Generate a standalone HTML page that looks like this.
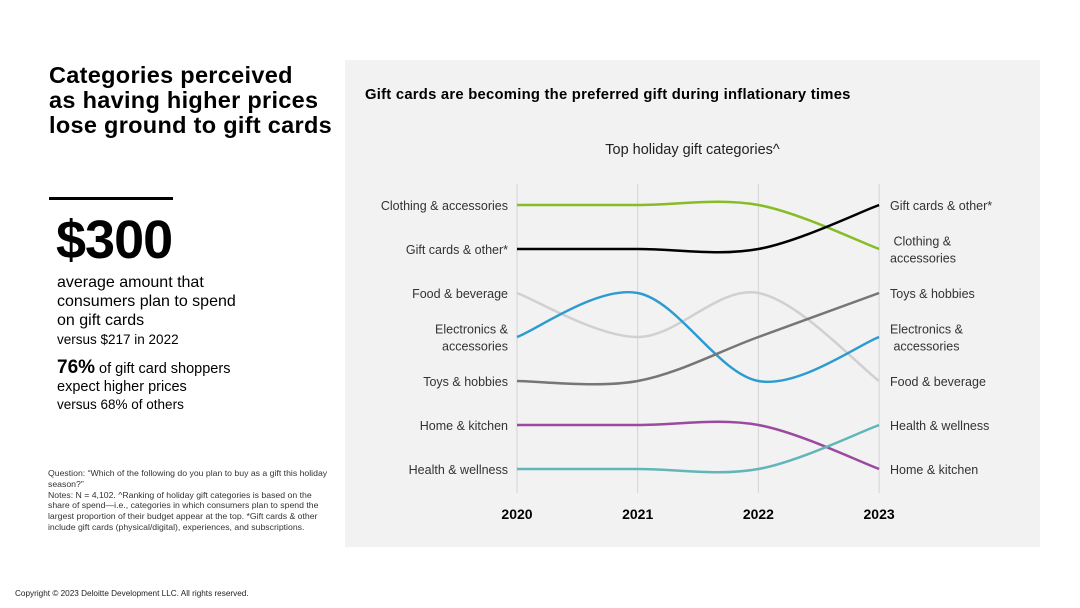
<!DOCTYPE html>
<html><head><meta charset="utf-8">
<style>
body{margin:0;width:1080px;height:608px;background:#fff;font-family:"Liberation Sans",sans-serif;position:relative;overflow:hidden;color:#000}
.abs{position:absolute}
</style></head><body>
<div class="abs" style="left:49px;top:63px;font-size:23.5px;font-weight:bold;line-height:25px;letter-spacing:0.3px">Categories perceived<br>as having higher prices<br>lose ground to gift cards</div>
<div class="abs" style="left:49px;top:197px;width:124px;height:3px;background:#000"></div>
<div class="abs" style="left:56px;top:211px;font-size:54px;font-weight:bold;line-height:58px;letter-spacing:-1px">$300</div>
<div class="abs" style="left:57px;top:273px;font-size:16px;line-height:19px">average amount that<br>consumers plan to spend<br>on gift cards<br><span style="font-size:13.5px">versus $217 in 2022</span></div>
<div class="abs" style="left:57px;top:359px;font-size:14.5px;line-height:18px"><b style="font-size:19px">76%</b> of gift card shoppers<br>expect higher prices<br><span style="font-size:13.5px">versus 68% of others</span></div>
<div class="abs" style="left:48px;top:468px;width:285px;font-size:8.7px;line-height:10.8px;color:#333">Question: “Which of the following do you plan to buy as a gift this holiday season?”<br>Notes: N = 4,102. ^Ranking of holiday gift categories is based on the share of spend—i.e., categories in which consumers plan to spend the largest proportion of their budget appear at the top. *Gift cards &amp; other include gift cards (physical/digital), experiences, and subscriptions.</div>
<div class="abs" style="left:15px;top:589px;font-size:8.2px;color:#222">Copyright © 2023 Deloitte Development LLC. All rights reserved.</div>
<div class="abs" style="left:345px;top:60px;width:695px;height:487px;background:#f2f2f2"></div>
<div class="abs" style="left:365px;top:87px;font-size:14.8px;font-weight:bold;letter-spacing:0.25px">Gift cards are becoming the preferred gift during inflationary times</div>
<div class="abs" style="left:345px;width:695px;top:142px;text-align:center;font-size:14.5px;color:#222">Top holiday gift categories^</div>
<svg class="abs" id="chart" style="left:0;top:0" width="1080" height="608"></svg>
<script>
const years=["2020","2021","2022","2023"];
const categories=["Clothing & accessories","Gift cards & other*","Food & beverage","Electronics & accessories","Toys & hobbies","Home & kitchen","Health & wellness"];
const rankClothing=[1,1,1,2];
const rankGift=[2,2,2,1];
const rankFood=[3,4,3,5];
const rankElectronics=[4,3,5,4];
const rankToys=[5,5,4,3];
const rankHome=[6,6,6,7];
const rankHealth=[7,7,7,6];
const series=[rankClothing,rankGift,rankFood,rankElectronics,rankToys,rankHome,rankHealth];
const colors=["#86bc25","#000000","#d0d0d0","#2e9bd0","#767676","#9b4aa0","#62b5b8"];
const leftLabels=[["Clothing & accessories"],["Gift cards & other*"],["Food & beverage"],["Electronics &","accessories"],["Toys & hobbies"],["Home & kitchen"],["Health & wellness"]];
const rightLabels={1:["Gift cards & other*"],2:[" Clothing &","accessories"],3:["Toys & hobbies"],4:["Electronics &"," accessories"],5:["Food & beverage"],6:["Health & wellness"],7:["Home & kitchen"]};
const svg=document.getElementById('chart');const NS="http://www.w3.org/2000/svg";
const x=i=>517+i*120.7;const y=r=>205+(r-1)*44;
function mk(t,a){const e=document.createElementNS(NS,t);for(const k in a)e.setAttribute(k,a[k]);svg.appendChild(e);return e;}
years.forEach((yr,i)=>{
 const g=mk('line',{x1:x(i),x2:x(i),y1:184,y2:493,stroke:'#d4d4d4','stroke-width':1});
 
 
 const t=mk('text',{x:x(i),y:519,'text-anchor':'middle','font-size':14,'font-weight':'bold','font-family':'Liberation Sans'});t.textContent=yr;
 
 
});
series.forEach((s,k)=>{
 const p=s.map((r,i)=>[x(i),y(r)]);
 let d=`M${p[0][0]},${p[0][1]}`;
 for(let i=0;i<p.length-1;i++){
  const p0=p[i-1]||p[i],p1=p[i],p2=p[i+1],p3=p[i+2]||p[i+1];
  const c1=[p1[0]+(p2[0]-p0[0])/6,p1[1]+(p2[1]-p0[1])/6];
  const c2=[p2[0]-(p3[0]-p1[0])/6,p2[1]-(p3[1]-p1[1])/6];
  d+=` C${c1},${c2},${p2}`;
 }
 const path=mk('path',{d:d,fill:'none',stroke:colors[k],'stroke-width':2.5});
 
 
});
leftLabels.forEach((lines,k)=>{
 const r=series[k][0];const y0=y(r)+5-(lines.length-1)*8.5;
 lines.forEach((ln,j)=>{const t=mk('text',{x:508,y:y0+j*17,'text-anchor':'end','font-size':12.5,fill:'#333','font-family':'Liberation Sans'});t.textContent=ln;
 
 });
});
Object.keys(rightLabels).forEach(r=>{
 const lines=rightLabels[r];const y0=y(+r)+5-(lines.length-1)*8.5;
 lines.forEach((ln,j)=>{const t=mk('text',{x:890,y:y0+j*17,'font-size':12.5,fill:'#333','font-family':'Liberation Sans','xml:space':'preserve'});t.textContent=ln;t.style.whiteSpace='pre';
 
 });
});
</script>
</body></html>
